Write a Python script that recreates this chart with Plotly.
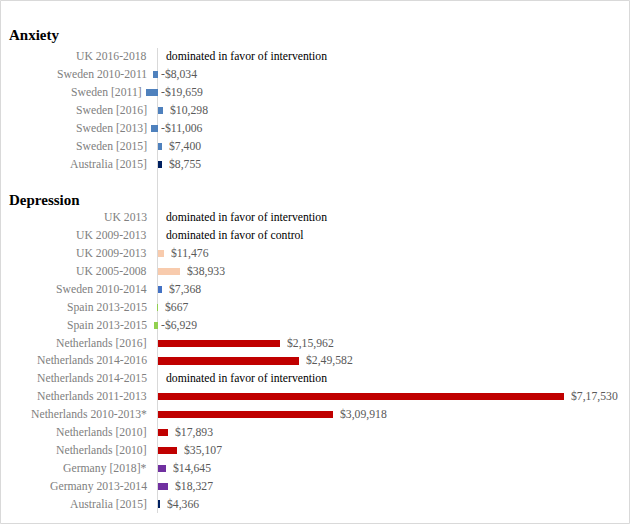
import plotly.graph_objects as go

# ---------------- data ----------------
anxiety_labels = ["UK 2016-2018", "Sweden 2010-2011", "Sweden [2011]", "Sweden [2016]",
                  "Sweden [2013]", "Sweden [2015]", "Australia [2015]"]
anxiety_values = [None, -8034, -19659, 10298, -11006, 7400, 8755]
anxiety_notes = ["dominated in favor of intervention", None, None, None, None, None, None]
anxiety_colors = ["#4F81BD", "#4F81BD", "#4F81BD", "#4F81BD", "#4F81BD", "#4F81BD", "#002060"]

depression_labels = ["UK 2013", "UK 2009-2013", "UK 2009-2013", "UK 2005-2008", "Sweden 2010-2014",
                     "Spain 2013-2015", "Spain 2013-2015", "Netherlands [2016]", "Netherlands 2014-2016",
                     "Netherlands 2014-2015", "Netherlands 2011-2013", "Netherlands 2010-2013*",
                     "Netherlands [2010]", "Netherlands [2010]", "Germany [2018]*", "Germany 2013-2014",
                     "Australia [2015]"]
depression_values = [None, None, 11476, 38933, 7368, 667, -6929, 215962, 249582, None,
                     717530, 309918, 17893, 35107, 14645, 18327, 4366]
depression_notes = ["dominated in favor of intervention", "dominated in favor of control",
                    None, None, None, None, None, None, None,
                    "dominated in favor of intervention", None, None, None, None, None, None, None]
depression_colors = ["#F8CBAD", "#F8CBAD", "#F8CBAD", "#F8CBAD", "#4472C4", "#92D050", "#92D050",
                     "#C00000", "#C00000", "#C00000", "#C00000", "#C00000", "#C00000", "#C00000",
                     "#7030A0", "#7030A0", "#002060"]

group_titles = ["Anxiety", "Depression"]


def fmt_money(v):
    """Indian-style digit grouping, e.g. 215962 -> $2,15,962"""
    s = str(abs(int(v)))
    if len(s) > 3:
        head, tail = s[:-3], s[-3:]
        parts = []
        while len(head) > 2:
            parts.insert(0, head[-2:])
            head = head[:-2]
        if head:
            parts.insert(0, head)
        s = ",".join(parts + [tail])
    return ("-" if v < 0 else "") + "$" + s


# row positions (top = 0)
anx_pos = list(range(len(anxiety_labels)))
dep_header_pos = len(anxiety_labels) + 1
dep_pos = [dep_header_pos + 1 + i for i in range(len(depression_labels))]

labels = anxiety_labels + depression_labels
values = anxiety_values + depression_values
notes = anxiety_notes + depression_notes
colors = anxiety_colors + depression_colors
positions = anx_pos + dep_pos

# ---------------- layout geometry ----------------
W, H = 631, 526
ML, MR, MT, MB = 140, 6, 48, 13
PW = W - ML - MR
PH = H - MT - MB

x_per_px = 717530 / 406.7
zero_px = 157.5
x_range = [-(zero_px - ML) * x_per_px, (W - MR - zero_px) * x_per_px]


def px_to_paper_x(px):
    return (px - ML) / PW


def py_to_paper_y(py):
    return (H - MB - py) / PH


LABEL_FONT = "Liberation Serif, Times New Roman, serif"
FS = 11.7

bar_x = [v if v is not None else 0 for v in values]
bar_y = positions

fig = go.Figure()
fig.add_trace(go.Bar(
    x=bar_x, y=bar_y, orientation="h",
    marker=dict(color=colors, line=dict(width=0)),
    width=0.4, hoverinfo="skip", showlegend=False,
))

annotations = []
# category labels (pushed left of any negative bar, as in the original)
for lab, v, p in zip(labels, values, positions):
    right_px = 149
    if v is not None and v < 0:
        right_px = min(right_px, zero_px + v / x_per_px - 2)
    annotations.append(dict(
        x=px_to_paper_x(right_px), xref="paper", y=p, yref="y",
        text=lab, showarrow=False, xanchor="right", yanchor="middle",
        font=dict(family=LABEL_FONT, size=FS, color="#808080"),
    ))
# value labels / notes
for v, n, p in zip(values, notes, positions):
    if n is not None:
        annotations.append(dict(
            x=0, xref="x", y=p, yref="y", text=n, showarrow=False,
            xanchor="left", yanchor="middle", xshift=6,
            font=dict(family=LABEL_FONT, size=FS, color="#000000"),
        ))
    elif v is not None:
        annotations.append(dict(
            x=max(v, 0), xref="x", y=p, yref="y", text=fmt_money(v), showarrow=False,
            xanchor="left", yanchor="middle", xshift=(5 if v >= 0 else 1),
            font=dict(family=LABEL_FONT, size=FS, color="#595959"),
        ))
# group headers
annotations.append(dict(
    x=px_to_paper_x(7), xref="paper", y=py_to_paper_y(35), yref="paper",
    text="<b>%s</b>" % group_titles[0], showarrow=False, xanchor="left", yanchor="middle",
    font=dict(family=LABEL_FONT, size=15, color="#000000"),
))
annotations.append(dict(
    x=px_to_paper_x(7), xref="paper", y=dep_header_pos, yref="y",
    text="<b>%s</b>" % group_titles[1], showarrow=False, xanchor="left", yanchor="middle",
    font=dict(family=LABEL_FONT, size=15, color="#000000"),
))

fig.update_layout(
    width=W, height=H,
    margin=dict(l=ML, r=MR, t=MT, b=MB, pad=0),
    paper_bgcolor="white", plot_bgcolor="white",
    xaxis=dict(range=x_range, showgrid=False, showticklabels=False, ticks="",
               zeroline=True, zerolinecolor="#d9d9d9", zerolinewidth=1, showline=False),
    yaxis=dict(range=[dep_pos[-1] + 0.5, -0.5], showgrid=False, showticklabels=False,
               ticks="", zeroline=False, showline=False),
    annotations=annotations,
    shapes=[dict(type="rect", xref="paper", yref="paper",
                 x0=px_to_paper_x(0.5), x1=px_to_paper_x(629.5),
                 y0=py_to_paper_y(523.5), y1=py_to_paper_y(0.5),
                 line=dict(color="#d9d9d9", width=1), fillcolor="rgba(0,0,0,0)", layer="below")],
    bargap=0,
)

fig.write_html("out.html", config={"displayModeBar": False},
               post_script="document.body.style.margin='0';")
